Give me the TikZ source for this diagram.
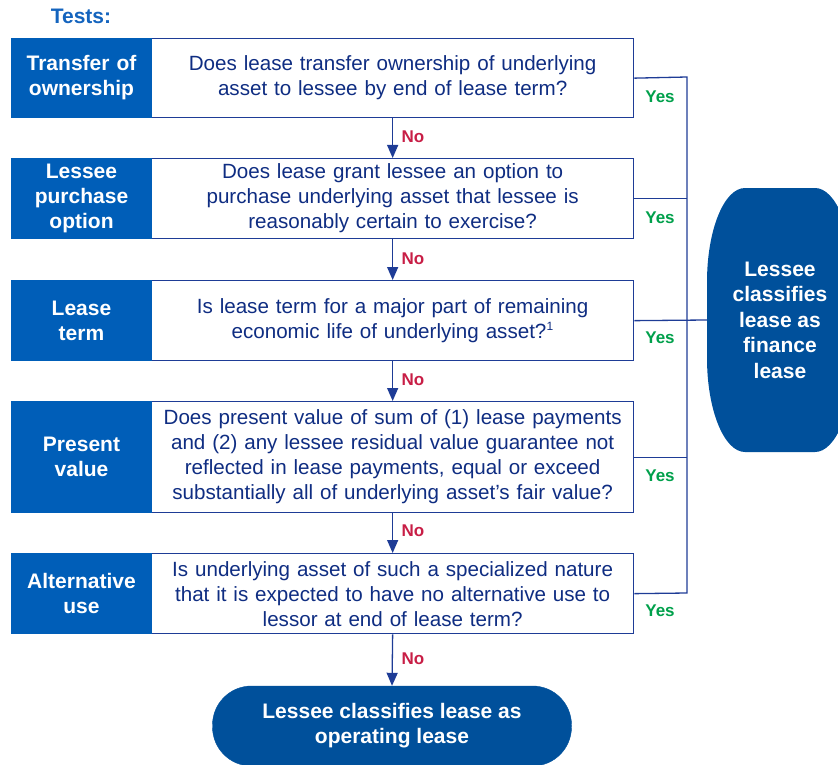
\documentclass[tikz,border=0pt]{standalone}
\usepackage{fontspec}
\setmainfont{Liberation Sans}
\usetikzlibrary{arrows.meta}
\definecolor{boxblue}{RGB}{0,94,184}
\definecolor{ovalblue}{RGB}{0,80,155}
\definecolor{linec}{RGB}{30,60,150}
\definecolor{txtc}{RGB}{15,45,130}
\definecolor{yesc}{RGB}{0,160,75}
\definecolor{noc}{RGB}{200,30,70}
\definecolor{testc}{RGB}{20,100,190}
\begin{document}
\begin{tikzpicture}[x=1pt,y=-1pt,
  bluebox/.style={fill=boxblue,draw=boxblue,line width=1pt,minimum width=140pt,inner sep=0pt,anchor=north west,
    text=white,font=\fontsize{21}{25}\selectfont\bfseries,align=center,text width=136pt},
  qbox/.style={fill=white,draw=linec,line width=1.3pt,minimum width=482pt,inner sep=0pt,anchor=north west,
    text=txtc,font=\fontsize{20.6}{25}\selectfont,align=center,text width=470pt},
  conn/.style={draw=linec,line width=1.3pt},
  arr/.style={conn,-{Triangle[width=11pt,length=13pt]}},
  yeslab/.style={text=yesc,font=\fontsize{17}{20}\selectfont\bfseries,inner sep=0pt},
  nolab/.style={text=noc,font=\fontsize{17}{20}\selectfont\bfseries,inner sep=0pt},
  ovaltext/.style={text=white,font=\fontsize{21}{25.5}\selectfont\bfseries,align=center,inner sep=0pt}]
\path[use as bounding box,clip] (0,0) rectangle (838,765);

\node[text=testc,font=\fontsize{21}{25}\selectfont\bfseries,inner sep=0pt] (tests) at (81,16) {Tests:};

% question boxes
\node[qbox,minimum height=79pt] (w1) at (151,38) {Does lease transfer ownership of underlying\\asset to lessee by end of lease term?};
\node[qbox,minimum height=80pt] (w2) at (151,158) {Does lease grant lessee an option to\\purchase underlying asset that lessee is\\reasonably certain to exercise?};
\node[qbox,minimum height=80pt] (w3) at (151,280) {Is lease term for a major part of remaining\\economic life of underlying asset?\textsuperscript{\fontsize{12}{12}\selectfont 1}};
\node[qbox,minimum height=111pt] (w4) at (151,401) {Does present value of sum of (1) lease payments\\and (2) any lessee residual value guarantee not\\reflected in lease payments, equal or exceed\\substantially all of underlying asset’s fair value?};
\node[qbox,minimum height=80pt] (w5) at (151,553) {Is underlying asset of such a specialized nature\\that it is expected to have no alternative use to\\lessor at end of lease term?};

% test labels
\node[bluebox,minimum height=79pt] (b1) at (11,38) {Transfer of\\ownership};
\node[bluebox,minimum height=80pt] (b2) at (11,158) {Lessee\\purchase\\option};
\node[bluebox,minimum height=80pt] (b3) at (11,280) {Lease\\term};
\node[bluebox,minimum height=111pt] (b4) at (11,401) {Present\\value};
\node[bluebox,minimum height=80pt] (b5) at (11,553) {Alternative\\use};

% finance lease oval
\fill[ovalblue] (707,282) arc[start angle=180,end angle=270,x radius=38,y radius=94]
  -- (815,188) arc[start angle=270,end angle=360,x radius=38,y radius=94]
  -- (853,358) arc[start angle=0,end angle=90,x radius=38,y radius=94]
  -- (745,452) arc[start angle=90,end angle=180,x radius=38,y radius=94] -- cycle;
\node[ovaltext,minimum width=146pt,minimum height=264pt] (fin) at (780,320) {Lessee\\classifies\\lease as\\finance\\lease};

% operating lease oval
\node[fill=ovalblue,draw=ovalblue,rounded corners=39pt,minimum width=359pt,minimum height=80pt,inner sep=0pt,
  ovaltext,font=\fontsize{21}{25}\selectfont\bfseries] (op) at (392,726) {Lessee classifies lease as\\operating lease};

% Yes connectors
\coordinate (bt) at (687,77);
\coordinate (bb) at (687,593);
\draw[conn] (w1.east) -- (bt) -- (bb) -- (w5.east);
\draw[conn] (w2.east) -- (w2.east -| bt);
\draw[conn] (w3.east) -- (fin.west);
\draw[conn] (w4.east) -- (w4.east -| bt);

\node[yeslab] (y1) at (660,97) {Yes};
\node[yeslab] (y2) at (660,218) {Yes};
\node[yeslab] (y3) at (660,338) {Yes};
\node[yeslab] (y4) at (660,476) {Yes};
\node[yeslab] (y5) at (660,611) {Yes};

% No arrows
\draw[arr] (w1.south) -- (w2.north);
\draw[arr] (w2.south) -- (w3.north);
\draw[arr] (w3.south) -- (w4.north);
\draw[arr] (w4.south) -- (w5.north);
\draw[arr] (w5.south) -- (op.north);

\node[nolab] (n1) at (413,137) {No};
\node[nolab] (n2) at (413,259) {No};
\node[nolab] (n3) at (413,380) {No};
\node[nolab] (n4) at (413,531) {No};
\node[nolab] (n5) at (413,659) {No};
\end{tikzpicture}
\end{document}
